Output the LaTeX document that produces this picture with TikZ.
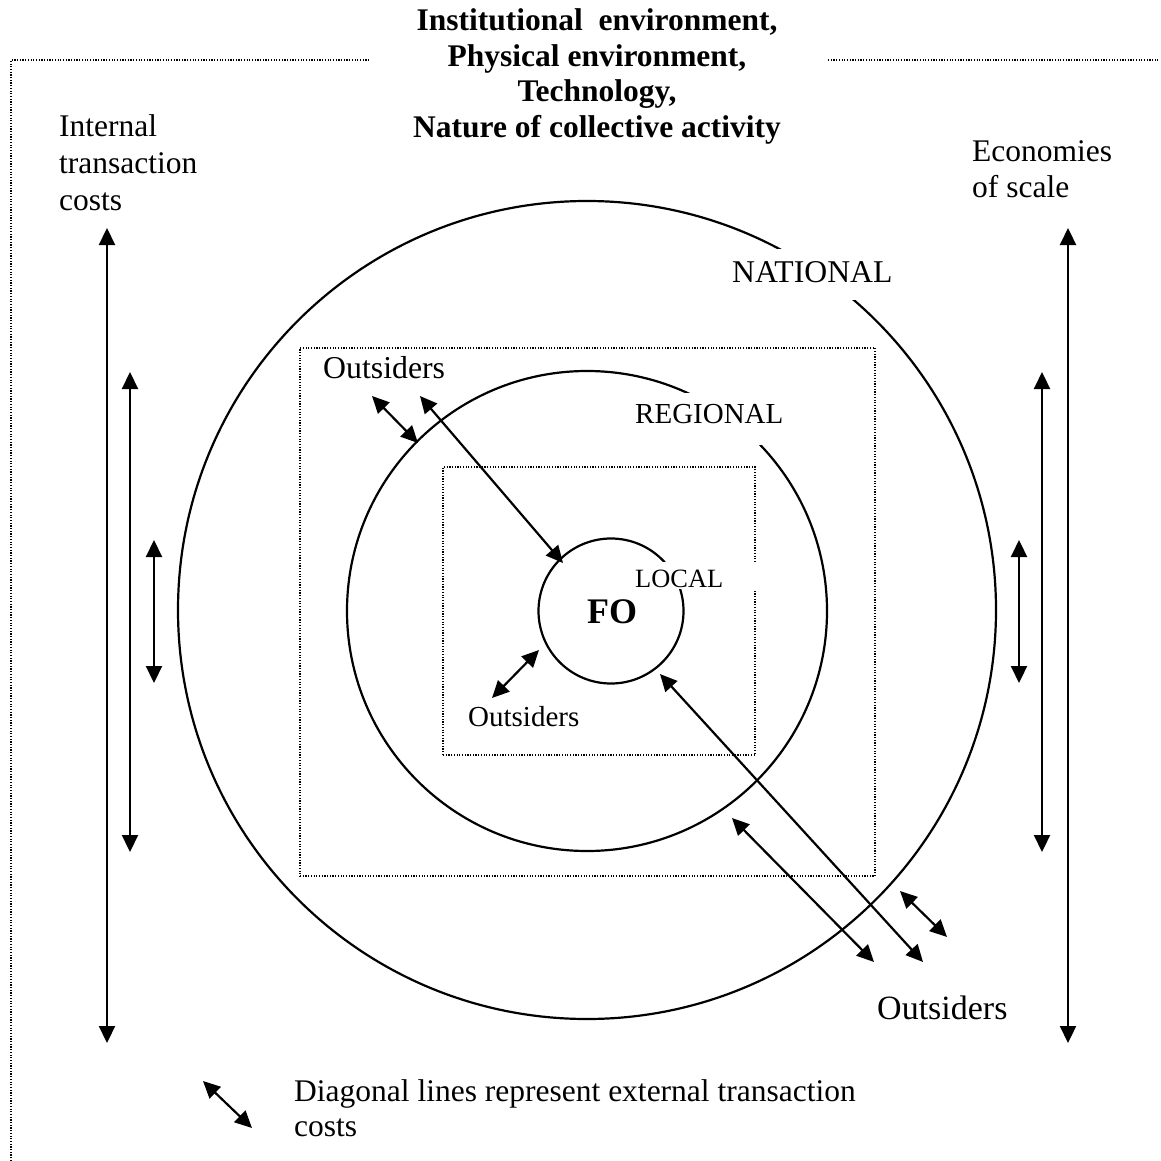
\documentclass[tikz,border=0pt]{standalone}
\usepackage{fontspec}
\setmainfont{Liberation Serif}
\usetikzlibrary{arrows.meta}
\begin{document}
\begin{tikzpicture}[x=1pt,y=-1pt,
  ring/.style={circle, draw, line width=2.2pt, minimum size=#1, inner sep=0pt, outer sep=0pt},
  dotline/.style={line width=1.3pt, dash pattern=on 1.2pt off 1.5pt},
  dbl/.style={{Triangle[length=17pt,width=16pt]}-{Triangle[length=17pt,width=16pt]}, line width=2.2pt},
  lbl/.style={anchor=base west, inner sep=0pt, font=\fontsize{31.5}{35}\selectfont},
  ttl/.style={anchor=base, inner sep=0pt, font=\fontsize{31.5}{35}\selectfont\bfseries},
  blank/.style={fill=white, draw=none, inner sep=0pt, outer sep=0pt}
]
\useasboundingbox (0,0) rectangle (1160,1161);

% outer frame (dotted)
\coordinate (fa) at (11,1161);
\coordinate (fb) at (11,60);
\coordinate (fc) at (370,60);
\coordinate (fd) at (828,60);
\coordinate (fe) at (1158,60);
\draw[dotline] (fa) -- (fb) -- (fc);
\draw[dotline] (fd) -- (fe);

% title
\node[ttl] (t1) at (597,31) {Institutional\ \ environment,};
\node[ttl] (t2) at (597,66.5) {Physical environment,};
\node[ttl] (t3) at (597,102) {Technology,};
\node[ttl] (t4) at (597,137.5) {Nature of collective activity};

% side labels
\node[lbl] (int1) at (59,137) {Internal};
\node[lbl] (int2) at (59,174) {transaction};
\node[lbl] (int3) at (59,211) {costs};
\node[lbl] (eco1) at (972,162) {Economies};
\node[lbl] (eco2) at (972,197) {of scale};

% dotted boxes
\node[draw, dotline, minimum width=575pt, minimum height=528pt, inner sep=0pt, outer sep=0pt] (regbox) at (587.5,612) {};
\node[draw, dotline, minimum width=312pt, minimum height=288pt, inner sep=0pt, outer sep=0pt] (locbox) at (599,611) {};

% circles
\node[ring=818pt] (national) at (587,610) {};
\node[ring=480pt] (regional) at (587,611) {};
\node[ring=145pt] (fo) at (611,611) {};

% gaps behind labels
\node[blank, minimum width=183pt, minimum height=51pt] (natgap) at (813.5,274.5) {};
\node[blank, minimum width=170pt, minimum height=52pt] (reggap) at (710,419) {};
\node[blank, minimum width=132pt, minimum height=27pt] (locgap) at (694,575.5) {};

% circle labels
\node[anchor=base west, inner sep=0pt, font=\fontsize{31.7}{35}\selectfont] (natl) at (732,282) {NATIONAL};
\node[anchor=base west, inner sep=0pt, font=\fontsize{29}{33}\selectfont] (regl) at (635,423) {REGIONAL};
\node[anchor=base west, inner sep=0pt, font=\fontsize{26.4}{30}\selectfont] (locl) at (635,587) {LOCAL};
\node[anchor=base west, inner sep=0pt, font=\fontsize{36}{40}\selectfont\bfseries] (fol) at (587,623) {FO};

% outsiders
\node[anchor=base west, inner sep=0pt, font=\fontsize{31.8}{35}\selectfont] (out1) at (323,378) {Outsiders};
\node[anchor=base west, inner sep=0pt, font=\fontsize{29}{33}\selectfont] (out2) at (468,726) {Outsiders};
\node[anchor=base west, inner sep=0pt, font=\fontsize{34}{38}\selectfont] (out3) at (877,1019) {Outsiders};

% legend
\node[lbl] (leg1) at (294,1101) {Diagonal lines represent external transaction};
\node[lbl] (leg2) at (294,1136) {costs};

% vertical arrows
\coordinate (l1a) at (107,228); \coordinate (l1b) at (107,1043);
\coordinate (l2a) at (130,372); \coordinate (l2b) at (130,852);
\coordinate (l3a) at (154,540); \coordinate (l3b) at (154,683);
\coordinate (r1a) at (1068,228); \coordinate (r1b) at (1068,1043);
\coordinate (r2a) at (1042,372); \coordinate (r2b) at (1042,852);
\coordinate (r3a) at (1019,540); \coordinate (r3b) at (1019,683);
\draw[dbl] (l1a) -- (l1b);
\draw[dbl] (l2a) -- (l2b);
\draw[dbl] (l3a) -- (l3b);
\draw[dbl] (r1a) -- (r1b);
\draw[dbl] (r2a) -- (r2b);
\draw[dbl] (r3a) -- (r3b);

% diagonal arrows
\coordinate (d1a) at (372,396); \coordinate (d1b) at (418,443);
\coordinate (d2a) at (420,396); \coordinate (d2b) at (563,563);
\coordinate (d3a) at (492,698); \coordinate (d3b) at (539,650);
\coordinate (d4a) at (660,674); \coordinate (d4b) at (923,962);
\coordinate (d5a) at (732,818); \coordinate (d5b) at (874,962);
\coordinate (d6a) at (900,891); \coordinate (d6b) at (947,937);
\coordinate (d7a) at (203,1081); \coordinate (d7b) at (252,1128);
\draw[dbl] (d1a) -- (d1b);
\draw[dbl] (d2a) -- (d2b);
\draw[dbl] (d3a) -- (d3b);
\draw[dbl] (d4a) -- (d4b);
\draw[dbl] (d5a) -- (d5b);
\draw[dbl] (d6a) -- (d6b);
\draw[dbl] (d7a) -- (d7b);
\end{tikzpicture}
\end{document}
